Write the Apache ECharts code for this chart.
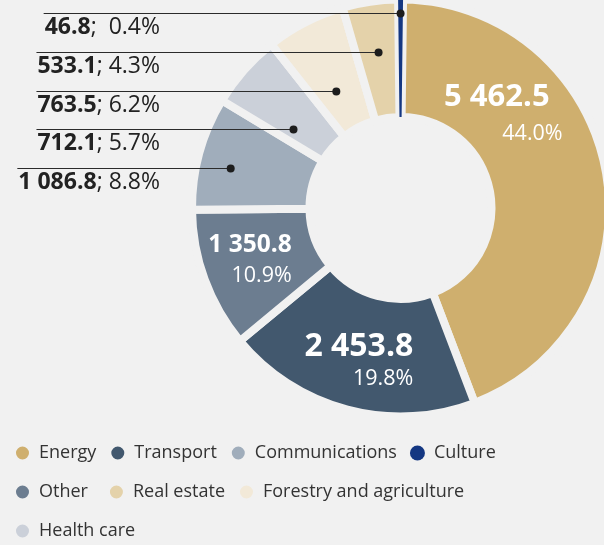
<!DOCTYPE html>
<html>
<head>
<meta charset="utf-8">
<script src="https://cdn.jsdelivr.net/npm/echarts@6/dist/echarts.min.js"></script>
<style>
  html, body { margin: 0; padding: 0; background: #f1f1f1; }
  #chart { width: 604px; height: 545px; }
</style>
</head>
<body>
<div id="chart"></div>
<script>
// slices, clockwise from the top
const sectors = ['Energy', 'Transport', 'Other', 'Communications', 'Health care', 'Forestry and agriculture', 'Real estate', 'Culture'];
const amounts = [5462.5, 2453.8, 1350.8, 1086.8, 712.1, 763.5, 533.1, 46.8];
const shares = ['44.0%', '19.8%', '10.9%', '8.8%', '5.7%', '6.2%', '4.3%', '0.4%'];
const legendOrder = ['Energy', 'Transport', 'Communications', 'Culture', 'Other', 'Real estate', 'Forestry and agriculture', 'Health care'];
const colors = ['#cfaf6e', '#42586e', '#6c7d90', '#a0adbb', '#cbd0d9', '#f2e9d8', '#e4d2aa', '#143782'];

// layout
const cx = 400.5, cy = 208, startAngle = 89.3;
const r0 = 91, r1 = 208.5;
const bg = '#f1f1f1';
const rowY = { 3: 168, 4: 129, 5: 91, 6: 52, 7: 13 };     // leader line rows
const dotFrac = { 3: 0.435, 4: 0.26, 5: 0.43, 6: 0.525, 7: 0.5 }; // where the dot sits inside its slice
const textRight = 160;
const insideShift = { 0: [-44.6, -69.8], 1: [-3.5, 9.3], 2: [-9.8, 0.8] };

const total = amounts.reduce((a, b) => a + b, 0);
const labelWidths = {};

const fmt = v => {
  const [i, d] = v.toFixed(1).split('.');
  return i.replace(/\B(?=(\d{3})+(?!\d))/g, ' ') + '.' + d;
};

function angleAt(i, frac) {
  let before = 0;
  for (let k = 0; k < i; k++) before += amounts[k];
  return (startAngle - 360 * (before + amounts[i] * frac) / total) * Math.PI / 180;
}
function dotX(i) {
  const t = angleAt(i, dotFrac[i]);
  return cx + (cy - rowY[i]) * Math.cos(t) / Math.sin(t);
}

const chart = echarts.init(document.getElementById('chart'));

const data = sectors.map((name, i) => ({
  name,
  value: amounts[i],
  itemStyle: i === 7 ? { color: colors[i], borderWidth: 0 } : { color: colors[i] },
  label: { position: i < 3 ? 'inside' : 'outside' }
}));

const legendData = legendOrder.map(name =>
  name === 'Other' ? { name, textStyle: { padding: [0, 7, 0, 4] } } : { name });

chart.setOption({
  backgroundColor: bg,
  animation: false,
  textStyle: { fontFamily: 'Open Sans' },
  color: colors,
  legend: {
    data: legendData,
    left: 14,
    top: 440,
    width: 520,
    padding: 0,
    icon: 'circle',
    itemWidth: 15,
    itemHeight: 15,
    itemGap: 13,
    textStyle: { fontSize: 18, color: '#333', fontFamily: 'Open Sans', lineHeight: 26, padding: [0, 0, 0, 4] }
  },
  series: [{
    type: 'pie',
    center: [cx, cy],
    radius: [r0, r1],
    startAngle: startAngle,
    clockwise: true,
    avoidLabelOverlap: false,
    silent: true,
    itemStyle: { borderColor: bg, borderWidth: 8 },
    label: {
      formatter: p => {
        const i = p.dataIndex;
        if (i === 0) return '{ve|' + fmt(amounts[i]) + '}\n{p|' + shares[i] + '}';
        if (i === 2) return '{vs|' + fmt(amounts[i]) + '}\n{p|' + shares[i] + '}';
        if (i < 3) return '{v|' + fmt(amounts[i]) + '}\n{p|' + shares[i] + '}';
        return '{b|' + fmt(amounts[i]) + '}{n|' + (i === 7 ? ';  ' : '; ') + shares[i] + '}';
      },
      rich: {
        v: { fontSize: 32, fontWeight: 'bold', color: '#fff', lineHeight: 34, align: 'right' },
        ve: { fontSize: 31, fontWeight: 'bold', color: '#fff', lineHeight: 44, align: 'right', padding: [0, 13, 0, 0] },
        vs: { fontSize: 24.5, fontWeight: 'bold', color: '#fff', lineHeight: 32, align: 'right' },
        p: { fontSize: 21.5, color: '#fff', lineHeight: 30, align: 'right' },
        b: { fontSize: 23, fontWeight: 'bold', color: '#222' },
        n: { fontSize: 23, color: '#222' }
      }
    },
    labelLine: { show: false },
    labelLayout: p => {
      const i = p.dataIndex;
      if (i < 3) {
        const t = angleAt(i, 0.5), rm = (r0 + r1) / 2;
        return {
          x: cx + rm * Math.cos(t) + insideShift[i][0],
          y: cy - rm * Math.sin(t) + insideShift[i][1],
          align: 'center',
          verticalAlign: 'middle'
        };
      }
      labelWidths[i] = p.labelRect.width;
      return { x: textRight, y: rowY[i] + 14, align: 'right', verticalAlign: 'middle' };
    },
    data: data
  }]
});

// leader lines and dots, drawn on top of the slices
const leaders = [];
[3, 4, 5, 6, 7].forEach(i => {
  const x0 = dotX(i);
  const y = rowY[i] + 0.5;
  const w = labelWidths[i] || 110;
  leaders.push({
    type: 'polyline', z: 100,
    shape: { points: [[textRight - w - 1, y], [x0, y]] },
    style: { stroke: '#2b2b2b', lineWidth: 1, fill: null }
  });
  leaders.push({
    type: 'circle', z: 101,
    shape: { cx: x0, cy: y, r: 4 },
    style: { fill: '#1d1d1d' }
  });
});
chart.setOption({ graphic: leaders });
</script>
</body>
</html>
